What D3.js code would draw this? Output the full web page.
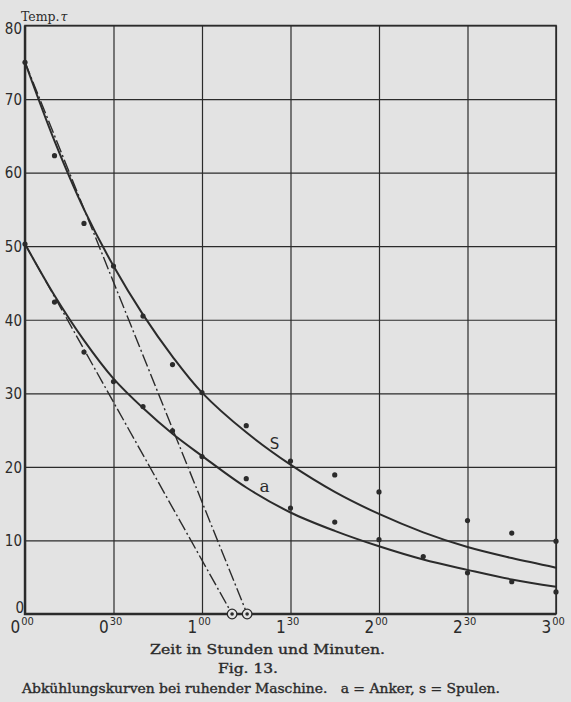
<!DOCTYPE html>
<html>
<head>
<meta charset="utf-8">
<script src="https://cdn.jsdelivr.net/npm/d3@7"></script>
<style>
  body { margin: 0; background: #e3e3e3; }
  svg { display: block; }
</style>
</head>
<body>
<svg width="571" height="702"></svg>
<script>
// time in minutes, temperature in degrees
var xTicks = [0, 30, 60, 90, 120, 150, 180];
var xTickHours = ["0", "0", "1", "1", "2", "2", "3"];
var xTickMins = ["00", "30", "00", "30", "00", "30", "00"];
var yTicks = [0, 10, 20, 30, 40, 50, 60, 70, 80];

// measured points, s = Spulen
var sTime = [0, 10, 20, 30, 40, 50, 60, 75, 90, 105, 120, 150, 165, 180];
var sTemp = [75, 62.3, 53.1, 47.3, 40.5, 33.9, 30.1, 25.6, 20.8, 18.9, 16.6, 12.7, 11.0, 9.9];
// measured points, a = Anker
var aTime = [0, 10, 20, 30, 40, 50, 60, 75, 90, 105, 120, 135, 150, 165, 180];
var aTemp = [50.3, 42.4, 35.6, 31.6, 28.2, 24.9, 21.4, 18.4, 14.4, 12.5, 10.1, 7.8, 5.6, 4.4, 3.0];

// drawn cooling curves
var curveTime = [0, 10, 20, 30, 40, 50, 60, 75, 90, 105, 120, 135, 150, 165, 180];
var sCurve = [75, 64.3, 55.0, 47.3, 40.7, 35.0, 30.1, 24.7, 20.3, 16.6, 13.6, 11.1, 9.1, 7.6, 6.3];
var aCurve = [50.3, 43.3, 37.2, 32.0, 28.0, 24.5, 21.5, 17.2, 13.8, 11.3, 9.2, 7.4, 6.0, 4.7, 3.7];

// initial tangents (dash-dot) ending in ringed points on the time axis
var tangentS = [[0, 75], [75.3, 0]];
var tangentA = [[0, 50.3], [70.2, 0]];

var ink = "#2b2b2b";
var paper = "#e3e3e3";
var svg = d3.select("svg");

var x = d3.scaleLinear().domain([0, 180]).range([25, 556]);
var y = d3.scaleLinear().domain([0, 80]).range([614, 25.5]);

// grid
svg.append("g")
  .attr("transform", "translate(0,614)")
  .call(d3.axisBottom(x).tickValues(xTicks).tickSize(-(614 - 25.5)).tickFormat(""))
  .call(function(g) {
    g.select(".domain").remove();
    g.selectAll("line").attr("stroke", ink).attr("stroke-width", 1.2);
  });
svg.append("g")
  .attr("transform", "translate(25,0)")
  .call(d3.axisLeft(y).tickValues(yTicks).tickSize(-(556 - 25)).tickFormat(""))
  .call(function(g) {
    g.select(".domain").remove();
    g.selectAll("line").attr("stroke", ink).attr("stroke-width", 1.2);
  });

// frame, heavier on the axes
svg.append("rect")
  .attr("x", x(0)).attr("y", y(80))
  .attr("width", x(180) - x(0)).attr("height", y(0) - y(80))
  .attr("fill", "none").attr("stroke", ink).attr("stroke-width", 1.5);
svg.append("path")
  .attr("d", "M" + x(0) + "," + y(80) + "V" + y(0) + "H" + x(180))
  .attr("fill", "none").attr("stroke", ink).attr("stroke-width", 2.4);

// tick labels
var tickFont = "'Liberation Sans Narrow','DejaVu Sans Condensed','Liberation Sans',sans-serif";
var yAxis = svg.append("g")
  .attr("transform", "translate(22,0)")
  .call(d3.axisLeft(y).tickValues(yTicks).tickSize(0).tickPadding(0))
  .call(function(g) { g.select(".domain").remove(); });
yAxis.selectAll("text")
  .attr("font-family", tickFont).attr("font-size", 15).attr("fill", ink)
  .attr("dy", function(d) { return d === 0 ? "-0.1em" : d === 80 ? "0.55em" : "0.35em"; })
  .attr("x", function(d) { return d === 0 ? 2 : 0; });

var xAxis = svg.append("g")
  .attr("transform", "translate(0,633)")
  .call(d3.axisBottom(x).tickValues(xTicks).tickSize(0).tickPadding(0).tickFormat(""))
  .call(function(g) { g.select(".domain").remove(); });
xAxis.selectAll(".tick text")
  .attr("y", 0).attr("dy", 0)
  .attr("dx", "-0.2em")
  .attr("font-family", tickFont).attr("font-size", 17).attr("fill", ink)
  .each(function(d, i) {
    var t = d3.select(this);
    t.append("tspan").text(xTickHours[i]);
    t.append("tspan").attr("dy", -8).attr("dx", 1).attr("font-size", 11).text(xTickMins[i]);
  });

// axis title
svg.append("text")
  .attr("x", 21).attr("y", 21)
  .attr("font-family", "'DejaVu Serif',serif").attr("font-size", 12.5).attr("fill", ink)
  .text("Temp.")
  .append("tspan").attr("font-style", "italic").attr("dx", 1).text("τ");

var line = d3.line().x(function(d) { return x(d[0]); }).y(function(d) { return y(d[1]); });
var smooth = d3.line().curve(d3.curveCatmullRom.alpha(0.5))
  .x(function(d) { return x(d[0]); }).y(function(d) { return y(d[1]); });

// tangents
[tangentS, tangentA].forEach(function(t) {
  svg.append("path").attr("d", line(t))
    .attr("fill", "none").attr("stroke", ink).attr("stroke-width", 1.4)
    .attr("stroke-dasharray", "13,3,2,3");
});

// curves
[sCurve, aCurve].forEach(function(c) {
  svg.append("path").attr("d", smooth(curveTime.map(function(t, i) { return [t, c[i]]; })))
    .attr("fill", "none").attr("stroke", ink).attr("stroke-width", 2);
});

// measured points
svg.append("g").selectAll("circle")
  .data(sTime.map(function(t, i) { return [t, sTemp[i]]; })
    .concat(aTime.map(function(t, i) { return [t, aTemp[i]]; })))
  .join("circle")
  .attr("cx", function(d) { return x(d[0]); })
  .attr("cy", function(d) { return y(d[1]); })
  .attr("r", 2.6).attr("fill", ink);

// ringed intersection points
var ends = [tangentS[1], tangentA[1]];
svg.append("g").selectAll("circle")
  .data(ends).join("circle")
  .attr("cx", function(d) { return x(d[0]); }).attr("cy", function(d) { return y(d[1]); })
  .attr("r", 4.8).attr("fill", paper).attr("stroke", ink).attr("stroke-width", 1.3);
svg.append("g").selectAll("circle")
  .data(ends).join("circle")
  .attr("cx", function(d) { return x(d[0]); }).attr("cy", function(d) { return y(d[1]); })
  .attr("r", 1.8).attr("fill", ink);

// curve labels
svg.append("text").attr("x", x(83)).attr("y", y(22.4))
  .attr("font-family", "'DejaVu Sans',sans-serif").attr("font-size", 15).attr("fill", ink).text("S");
svg.append("text").attr("x", x(79.5)).attr("y", y(16.6))
  .attr("font-family", "'DejaVu Serif',serif").attr("font-size", 17).attr("fill", ink).text("a");

// caption
var capFont = "'DejaVu Serif',serif";
function caption(str, cx, cy, len) {
  svg.append("text").attr("x", cx).attr("y", cy)
    .attr("font-family", capFont).attr("font-size", 12.5).attr("fill", ink)
    .attr("stroke", ink).attr("stroke-width", 0.35)
    .attr("textLength", len).attr("lengthAdjust", "spacingAndGlyphs")
    .text(str);
}
caption("Zeit in Stunden und Minuten.", 150, 654, 235);
caption("Fig. 13.", 218, 673, 60);
caption("Abkühlungskurven bei ruhender Maschine.\u00a0\u00a0 a = Anker, s = Spulen.", 22, 693, 478);
</script>
</body>
</html>
